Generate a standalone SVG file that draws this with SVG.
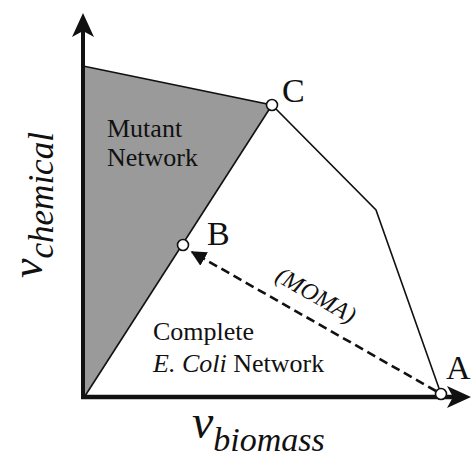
<svg xmlns="http://www.w3.org/2000/svg" width="472" height="459" viewBox="0 0 472 459">
<style>
text{font-family:"Liberation Serif","DejaVu Serif","Times New Roman",serif;fill:#111}
.i{font-style:italic}
.edge{fill:none;stroke:#111;stroke-width:1.6}
.pt{fill:#fff;stroke:#111;stroke-width:1.6}
</style>
<defs>
<marker id="ah" viewBox="0 0 10 10" refX="9" refY="5" markerWidth="6" markerHeight="6" orient="auto" markerUnits="strokeWidth">
<path d="M0,0 L10,5 L0,10 Z" fill="#111"/>
</marker>
</defs>
<rect width="472" height="459" fill="#fff"/>
<g id="mutant-region">
<polygon points="83,66 272,105 85,396 83,396" fill="#9a9a9a"/>
</g>
<g id="feasible-boundary">
<polyline class="edge" points="83,66 272,105 376,210 441,394"/>
<line class="edge" x1="272" y1="105" x2="85" y2="396"/>
</g>
<g id="axes">
<line x1="83" y1="399" x2="83" y2="28" stroke="#111" stroke-width="4"/>
<path d="M83,13 L94,37 L83,31 L72,37 Z" fill="#111"/>
<line x1="81" y1="397" x2="456" y2="397" stroke="#111" stroke-width="4.5"/>
<path d="M471,397 L447,386 L453,397 L447,408 Z" fill="#111"/>
</g>
<g id="connectors">
<line x1="436" y1="391" x2="192" y2="252" stroke="#111" stroke-width="2.6" stroke-dasharray="9,5" marker-end="url(#ah)"/>
<text class="i" font-size="24" text-anchor="middle" transform="translate(316,295) rotate(30)" x="0" y="8">(MOMA)</text>
</g>
<g id="point-C">
<circle class="pt" cx="272" cy="105" r="5.5"/>
<text font-size="34" x="282" y="102">C</text>
</g>
<g id="point-B">
<circle class="pt" cx="183" cy="245" r="5.5"/>
<text font-size="34" x="207" y="245">B</text>
</g>
<g id="point-A">
<circle class="pt" cx="441" cy="394" r="5.5"/>
<text font-size="34" x="446" y="379">A</text>
</g>
<g id="label-mutant">
<text font-size="26" x="107" y="137">Mutant</text>
<text font-size="26" x="107" y="166">Network</text>
</g>
<g id="label-complete">
<text font-size="26" x="153" y="340">Complete</text>
<text font-size="26" x="153" y="372"><tspan class="i">E. Coli</tspan> Network</text>
</g>
<g id="axis-labels">
<text class="i" font-size="48" x="192" y="438">v<tspan font-size="34" dy="13">biomass</tspan></text>
<text class="i" font-size="44" transform="translate(42,278) rotate(-90)">v<tspan font-size="35" dy="11">chemical</tspan></text>
</g>
</svg>
